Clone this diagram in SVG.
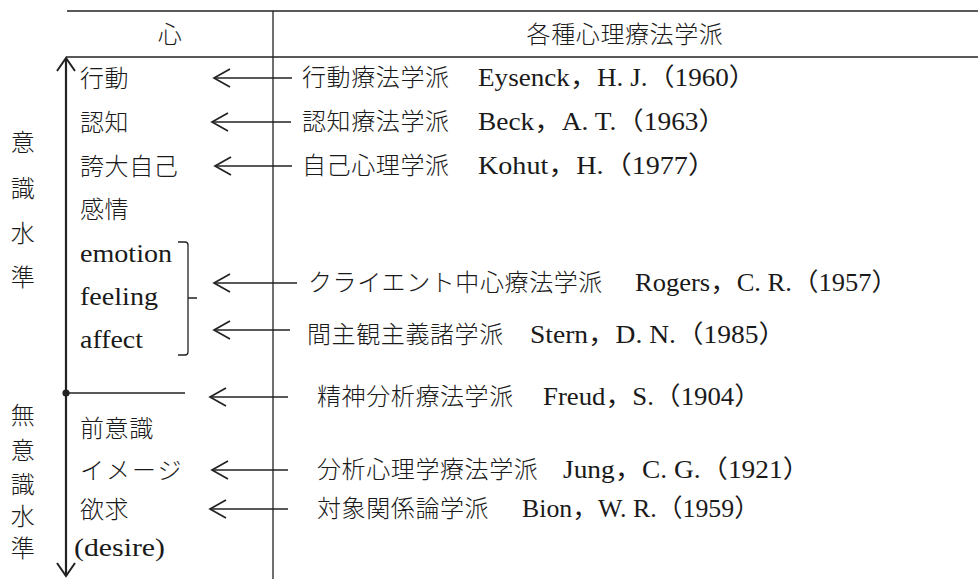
<svg xmlns="http://www.w3.org/2000/svg" width="978" height="579" viewBox="0 0 978 579">
<style>
.jp{font-family:"Noto Sans CJK JP","Noto Sans CJK SC",sans-serif;font-size:24px;font-weight:300;fill:#1a1a1a;letter-spacing:0.6px}
.en{font-family:"Liberation Serif","Noto Sans CJK JP",serif;font-size:25px;fill:#1a1a1a}
.rule{stroke:#222;stroke-width:1.3;fill:none}
.ax{stroke:#222;stroke-width:2.2;fill:none}
.arr{stroke:#222;stroke-width:1.7;fill:none;marker-end:url(#ah)}
</style>
<defs>
<marker id="ah" markerWidth="20" markerHeight="20" refX="0" refY="0" orient="auto" markerUnits="userSpaceOnUse" overflow="visible"><path d="M-16,-9 L0,0 L-16,9" fill="none" stroke="#222" stroke-width="1.7"/></marker>
<marker id="ax" markerWidth="20" markerHeight="20" refX="0" refY="0" orient="auto" markerUnits="userSpaceOnUse" overflow="visible"><path d="M-13,-9 L0,0 L-13,9" fill="none" stroke="#222" stroke-width="2"/></marker>
</defs>
<rect width="978" height="579" fill="#fff"/>
<g id="table">
<line class="rule" x1="67" y1="11" x2="978" y2="11"/>
<line class="rule" x1="66" y1="57" x2="978" y2="57"/>
<line class="rule" x1="273" y1="11" x2="273" y2="579"/>
<text class="jp" x="170" y="43" text-anchor="middle">心</text>
<text class="jp" x="625" y="43" text-anchor="middle">各種心理療法学派</text>
</g>
<g id="axis">
<line class="ax" x1="66" y1="393" x2="66" y2="58" marker-end="url(#ax)"/>
<line class="ax" x1="66" y1="393" x2="66" y2="576" marker-end="url(#ax)"/>
<circle cx="66" cy="393" r="3.6" fill="#222"/>
<line class="rule" x1="66" y1="393" x2="185" y2="393" stroke-width="1.6"/>
</g>
<g id="level-conscious">
<text class="jp" x="23" y="151" text-anchor="middle">意</text>
<text class="jp" x="23" y="197" text-anchor="middle">識</text>
<text class="jp" x="23" y="242" text-anchor="middle">水</text>
<text class="jp" x="23" y="286" text-anchor="middle">準</text>
</g>
<g id="level-unconscious">
<text class="jp" x="23" y="424" text-anchor="middle">無</text>
<text class="jp" x="23" y="459" text-anchor="middle">意</text>
<text class="jp" x="23" y="493" text-anchor="middle">識</text>
<text class="jp" x="23" y="525" text-anchor="middle">水</text>
<text class="jp" x="23" y="557" text-anchor="middle">準</text>
</g>
<g id="mind">
<text class="jp" x="80" y="87">行動</text>
<text class="jp" x="80" y="131">認知</text>
<text class="jp" x="80" y="175">誇大自己</text>
<text class="jp" x="80" y="218">感情</text>
<text class="en" x="80" y="262" textLength="92" lengthAdjust="spacingAndGlyphs">emotion</text>
<text class="en" x="80" y="305" textLength="78" lengthAdjust="spacingAndGlyphs">feeling</text>
<text class="en" x="80" y="348" textLength="63" lengthAdjust="spacingAndGlyphs">affect</text>
<path class="rule" d="M178,242 H185 Q188,242 188,245 V352 Q188,355 185,355 H178 M188,298 H197" stroke-width="1.6"/>
<text class="jp" x="80" y="437">前意識</text>
<text class="jp" x="80" y="479" textLength="102">イメージ</text>
<text class="jp" x="80" y="518">欲求</text>
<text class="en" x="74" y="556" textLength="91" lengthAdjust="spacingAndGlyphs">(desire)</text>
</g>
<g id="connectors">
<line class="arr" x1="292" y1="78" x2="214" y2="78"/>
<line class="arr" x1="291" y1="122" x2="212" y2="122"/>
<line class="arr" x1="292" y1="166" x2="215" y2="166"/>
<line class="arr" x1="297" y1="283" x2="214" y2="283"/>
<line class="arr" x1="290" y1="330" x2="214" y2="330"/>
<line class="arr" x1="288" y1="397" x2="210" y2="397"/>
<line class="arr" x1="288" y1="470" x2="212" y2="470"/>
<line class="arr" x1="288" y1="509" x2="210" y2="509"/>
</g>
<g id="school-behavior">
<text class="jp" x="302" y="86">行動療法学派</text>
<text class="en" x="478" y="86" textLength="278" lengthAdjust="spacingAndGlyphs">Eysenck，H. J.（1960）</text>
</g>
<g id="school-cognitive">
<text class="jp" x="302" y="130">認知療法学派</text>
<text class="en" x="478" y="130" textLength="248" lengthAdjust="spacingAndGlyphs">Beck，A. T.（1963）</text>
</g>
<g id="school-self">
<text class="jp" x="302" y="174">自己心理学派</text>
<text class="en" x="478" y="174" textLength="238" lengthAdjust="spacingAndGlyphs">Kohut，H.（1977）</text>
</g>
<g id="school-client">
<text class="jp" x="308" y="291">クライエント中心療法学派</text>
<text class="en" x="635" y="291" textLength="263" lengthAdjust="spacingAndGlyphs">Rogers，C. R.（1957）</text>
</g>
<g id="school-intersubjective">
<text class="jp" x="307" y="343">間主観主義諸学派</text>
<text class="en" x="530" y="343" textLength="256" lengthAdjust="spacingAndGlyphs">Stern，D. N.（1985）</text>
</g>
<g id="school-psychoanalysis">
<text class="jp" x="317" y="405">精神分析療法学派</text>
<text class="en" x="543" y="405" textLength="218" lengthAdjust="spacingAndGlyphs">Freud，S.（1904）</text>
</g>
<g id="school-analytical">
<text class="jp" x="317" y="478">分析心理学療法学派</text>
<text class="en" x="563" y="478" textLength="247" lengthAdjust="spacingAndGlyphs">Jung，C. G.（1921）</text>
</g>
<g id="school-objectrelations">
<text class="jp" x="317" y="517">対象関係論学派</text>
<text class="en" x="522" y="517" textLength="238" lengthAdjust="spacingAndGlyphs">Bion，W. R.（1959）</text>
</g>
</svg>
